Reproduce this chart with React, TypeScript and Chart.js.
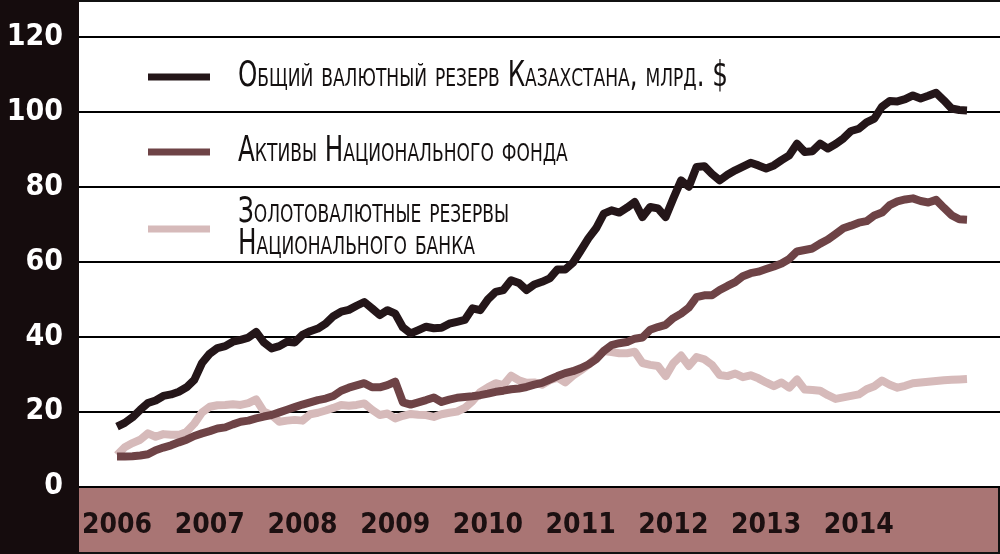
import React, { useEffect, useRef } from "react";
import { Chart, registerables } from "chart.js";

Chart.register(...registerables);

// ---- data ----
const yearLabels = ["2006", "2007", "2008", "2009", "2010", "2011", "2012", "2013", "2014"];
const monthsPerYear = 12;
const yTicks = [0, 20, 40, 60, 80, 100, 120];

// monthly values, Jan 2006 .. Mar 2015, bn USD
const totalReserve = [
  16.0, 17.0, 18.5, 20.5, 22.3, 23.0, 24.2, 24.6, 25.3, 26.5,
  28.5, 33.0, 35.5, 37.0, 37.5, 38.7, 39.2, 39.8, 41.3, 38.5,
  36.9, 37.5, 38.7, 38.5, 40.5, 41.5, 42.2, 43.5, 45.5, 46.7,
  47.2, 48.3, 49.3, 47.6, 45.8, 47.1, 46.2, 42.5, 40.9, 41.8,
  42.7, 42.3, 42.4, 43.5, 44.0, 44.5, 47.6, 47.1, 50.0, 52.0,
  52.5, 55.1, 54.4, 52.5, 54.0, 54.7, 55.6, 58.0, 58.0, 59.8,
  63.0, 66.3, 69.0, 72.9, 73.8, 73.2, 74.5, 76.0, 72.0, 74.7,
  74.3, 72.0, 77.0, 81.8, 80.1, 85.4, 85.6, 83.5, 81.8, 83.3,
  84.5, 85.5, 86.5, 85.8, 85.0, 85.8, 87.2, 88.5, 91.6, 89.4,
  89.6, 91.6, 90.3, 91.5, 93.0, 95.0, 95.6, 97.3, 98.3, 101.5,
  103.0, 102.9, 103.5, 104.5, 103.7, 104.4, 105.2, 103.2, 101.0, 100.6, 100.5,
];

const nationalFund = [
  8.0, 8.0, 8.1, 8.3, 8.6, 9.7, 10.4, 11.0, 11.8, 12.5,
  13.5, 14.2, 14.8, 15.5, 15.8, 16.6, 17.3, 17.6, 18.2, 18.7,
  19.1, 19.8, 20.5, 21.2, 21.9, 22.5, 23.1, 23.5, 24.2, 25.6,
  26.4, 27.0, 27.6, 26.5, 26.5, 27.1, 28.0, 22.5, 21.9, 22.5,
  23.1, 23.8, 22.6, 23.2, 23.7, 23.9, 24.1, 24.4, 24.8, 25.3,
  25.6, 26.0, 26.2, 26.6, 27.2, 27.7, 28.6, 29.5, 30.3, 30.8,
  31.6, 32.6, 34.0, 36.2, 37.8, 38.3, 38.6, 39.5, 39.8, 41.9,
  42.6, 43.2, 45.0, 46.2, 47.8, 50.6, 51.1, 51.1, 52.5, 53.6,
  54.6, 56.2, 57.0, 57.4, 58.1, 58.8, 59.6, 60.8, 62.8, 63.2,
  63.6, 64.9, 66.0, 67.5, 69.0, 69.7, 70.5, 70.9, 72.4, 73.2,
  75.2, 76.2, 76.7, 77.0, 76.3, 75.9, 76.6, 74.5, 72.5, 71.4, 71.3,
];

const nationalBank = [
  8.4, 10.5, 11.6, 12.5, 14.2, 13.3, 14.0, 13.8, 13.8, 14.6,
  16.8, 19.8, 21.3, 21.7, 21.8, 22.0, 21.8, 22.3, 23.3, 20.0,
  19.1, 17.3, 17.6, 17.8, 17.6, 19.3, 19.7, 20.3, 21.0, 21.8,
  21.6, 21.8, 22.2, 20.5, 19.1, 19.5, 18.2, 18.9, 19.4, 19.2,
  19.1, 18.6, 19.3, 19.7, 20.0, 21.0, 22.8, 25.2, 26.5, 27.6,
  27.1, 29.6, 28.4, 27.7, 27.8, 27.2, 28.4, 29.1, 27.8, 29.6,
  31.0, 32.5, 34.3, 36.2, 35.9, 35.6, 35.6, 36.0, 33.0, 32.5,
  32.2, 29.5, 33.0, 35.0, 32.2, 34.6, 34.0, 32.5, 29.8, 29.5,
  30.2, 29.2, 29.7, 28.9, 27.8, 26.8, 27.8, 26.4, 28.6, 25.9,
  25.8, 25.6, 24.4, 23.4, 23.8, 24.2, 24.6, 26.0, 26.8, 28.3,
  27.2, 26.4, 26.9, 27.6, 27.8, 28.0, 28.2, 28.4, 28.5, 28.6, 28.7,
];

const seriesLabels: string[][] = [
  ["Общий валютный резерв Казахстана, млрд. $"],
  ["Активы Национального фонда"],
  ["Золотовалютные резервы", "Национального банка"],
];

const COLORS = {
  total: "#241619",
  fund: "#6e4346",
  bank: "#d6baba",
  panel: "#150c0d",
  band: "#a97574",
};

const NARROW = "'Liberation Sans Narrow', 'DejaVu Sans Condensed', 'Roboto Condensed', sans-serif";

const backgroundPlugin = {
  id: "bgPanels",
  beforeDraw(chart: any) {
    const { ctx, chartArea, width, height } = chart;
    ctx.save();
    ctx.fillStyle = "#ffffff";
    ctx.fillRect(0, 0, width, height);
    ctx.fillStyle = COLORS.panel;
    ctx.fillRect(0, 0, chartArea.left, height);
    ctx.fillStyle = COLORS.band;
    ctx.fillRect(chartArea.left, chartArea.bottom, width - chartArea.left, height - chartArea.bottom);
    ctx.fillStyle = "#111";
    ctx.fillRect(chartArea.left, 0, width - chartArea.left, 2);
    ctx.fillRect(width - 2, chartArea.bottom, 2, height - chartArea.bottom);
    ctx.fillRect(chartArea.left, height - 2, width - chartArea.left, 2);
    ctx.restore();
  },
};

const legendPlugin = {
  id: "customLegend",
  afterDraw(chart: any) {
    const { ctx, chartArea } = chart;
    const swX0 = chartArea.left + 69;
    const swX1 = chartArea.left + 131;
    const textX = chartArea.left + 159;
    const rowY = [77, 152, 229];
    const lineGap = 32;
    ctx.save();
    ctx.font = `small-caps 36px ${NARROW}`;
    const refW = ctx.measureText(seriesLabels[0][0]).width;
    const sx = refW > 0 ? 490 / refW : 1;
    chart.data.datasets.forEach((ds: any, k: number) => {
      const y = rowY[k];
      ctx.strokeStyle = ds.borderColor;
      ctx.lineWidth = 7;
      ctx.lineCap = "butt";
      ctx.beginPath();
      ctx.moveTo(swX0, y);
      ctx.lineTo(swX1, y);
      ctx.stroke();
      const lines = seriesLabels[k];
      const startY = y - ((lines.length - 1) * lineGap) / 2;
      ctx.fillStyle = "#141010";
      ctx.textBaseline = "middle";
      ctx.textAlign = "left";
      lines.forEach((t, j) => {
        ctx.save();
        ctx.translate(textX, startY + j * lineGap);
        ctx.scale(sx, 1);
        ctx.fillText(t, 0, 0);
        ctx.restore();
      });
    });
    ctx.restore();
  },
};

export default function App() {
  const canvasRef = useRef<HTMLCanvasElement | null>(null);

  useEffect(() => {
    document.body.style.margin = "0";
    const canvas = canvasRef.current;
    if (!canvas) return;
    const toPoints = (arr: number[]) => arr.map((v, i) => ({ x: i, y: v }));
    const lineStyle = { borderWidth: 8, pointRadius: 0, borderJoinStyle: "round" };
    const chart = new Chart(canvas, {
      type: "line",
      data: {
        datasets: [
          { label: seriesLabels[0].join(" "), data: toPoints(totalReserve), borderColor: COLORS.total, order: 1, ...lineStyle },
          { label: seriesLabels[1].join(" "), data: toPoints(nationalFund), borderColor: COLORS.fund, order: 2, ...lineStyle },
          { label: seriesLabels[2].join(" "), data: toPoints(nationalBank), borderColor: COLORS.bank, order: 3, ...lineStyle },
        ],
      },
      options: {
        animation: false,
        responsive: false,
        devicePixelRatio: 1,
        layout: { padding: 0 },
        plugins: { legend: { display: false }, tooltip: { enabled: false } },
        scales: {
          x: {
            type: "linear",
            min: -4.92,
            max: 114.27,
            grid: { display: false },
            border: { display: false },
            afterBuildTicks: (s: any) => {
              s.ticks = yearLabels.map((_, k) => ({ value: k * monthsPerYear }));
            },
            afterFit: (s: any) => {
              s.height = 67.5;
              s.paddingLeft = 0;
              s.paddingRight = 0;
            },
            ticks: {
              autoSkip: false,
              maxRotation: 0,
              padding: 14,
              color: "#1c1011",
              font: { family: NARROW, size: 28, weight: "bold" },
              callback: (v: any) => yearLabels[Math.round(Number(v) / monthsPerYear)] ?? "",
            },
          },
          y: {
            min: 0,
            max: 130,
            afterBuildTicks: (s: any) => {
              s.ticks = yTicks.map((v) => ({ value: v }));
            },
            afterFit: (s: any) => {
              s.width = 79;
              s.paddingTop = 0;
              s.paddingBottom = 0;
            },
            grid: { color: "#000", lineWidth: 2, drawTicks: false },
            border: { display: false },
            ticks: {
              padding: 16,
              color: "#ffffff",
              font: { family: NARROW, size: 30, weight: "bold" },
            },
          },
        },
      },
      plugins: [backgroundPlugin, legendPlugin],
    } as any);
    return () => chart.destroy();
  }, []);

  return (
    <div style={{ position: "absolute", left: 0, top: 0, width: 1000, height: 554 }}>
      <canvas ref={canvasRef} width={1000} height={554} style={{ width: 1000, height: 554, display: "block" }} />
    </div>
  );
}
